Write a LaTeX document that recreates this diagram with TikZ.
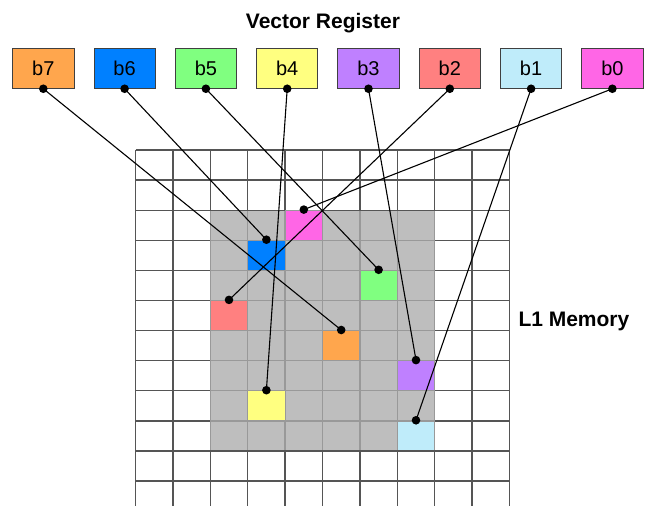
\documentclass[tikz,border=0pt]{standalone}
\usepackage{fontspec}
\setmainfont{Liberation Sans}
\definecolor{orangeC}{HTML}{FFA64D}
\definecolor{blueC}{HTML}{0080FF}
\definecolor{greenC}{HTML}{80FF80}
\definecolor{yellowC}{HTML}{FFFF80}
\definecolor{purpleC}{HTML}{BF80FF}
\definecolor{redC}{HTML}{FF8080}
\definecolor{lblueC}{HTML}{BFECFA}
\definecolor{magC}{HTML}{FF66E6}
\definecolor{grayC}{HTML}{BEBEBE}
\definecolor{gridC}{HTML}{555555}
\definecolor{gridL}{HTML}{999999}
\begin{document}
\begin{tikzpicture}[x=1pt,y=-1pt,
  reg/.style={draw=black!75, line width=0.9pt, minimum width=61.3pt, minimum height=40pt, inner sep=0pt,
    font=\fontsize{20}{24}\selectfont},
  cell/.style={draw=gridL, line width=1.2pt, minimum width=37.4pt, minimum height=30.1pt, inner sep=0pt},
  conn/.style={line width=1.1pt, black},
  dot/.style={fill=black},
  title/.style={font=\fontsize{21}{25}\selectfont\bfseries, inner sep=0pt}]
\useasboundingbox (0,0) rectangle (646,506);
% grid
\foreach \i in {0,...,10} {
  \draw[gridC, line width=1.3pt] ({135.5+37.4*\i},150) -- ({135.5+37.4*\i},506);
}
\foreach \j in {0,...,11} {
  \draw[gridC, line width=1.3pt] (135.5,{150+30.1*\j}) -- (509.5,{150+30.1*\j});
}
% gray region
\fill[grayC] (210.3,210.2) rectangle (434.7,451);
\foreach \i in {2,...,8} {
  \draw[gridL, line width=1.3pt] ({135.5+37.4*\i},210.2) -- ({135.5+37.4*\i},451);
}
\foreach \j in {3,...,9} {
  \draw[gridL, line width=1.3pt] (210.3,{150+30.1*\j}) -- (434.7,{150+30.1*\j});
}
\draw[gridC, line width=1.3pt] (135.5,210.2) -- (509.5,210.2);
\draw[gridC, line width=1.3pt] (135.5,451) -- (509.5,451);
% colored cells
\node[cell, fill=magC]    (c0) at (303.8,225.25) {};
\node[cell, fill=blueC]   (c6) at (266.4,255.35) {};
\node[cell, fill=greenC]  (c5) at (378.6,285.45) {};
\node[cell, fill=redC]    (c2) at (229.0,315.55) {};
\node[cell, fill=orangeC] (c7) at (341.2,345.65) {};
\node[cell, fill=purpleC] (c3) at (416.0,375.75) {};
\node[cell, fill=yellowC] (c4) at (266.4,405.85) {};
\node[cell, fill=lblueC]  (c1) at (416.0,435.95) {};
\draw[gridC, line width=1.3pt] (396.9,451) -- (434.7,451);
% title
\node[title, anchor=base] (t) at (323,28.3) {Vector Register};
\node[title, anchor=base west] (l1) at (518.3,326.7) {L1 Memory};
% register boxes
\node[reg, fill=orangeC] (b7) at (43.3,68.3) {b7};
\node[reg, fill=blueC]   (b6) at (124.6,68.3) {b6};
\node[reg, fill=greenC]  (b5) at (205.9,68.3) {b5};
\node[reg, fill=yellowC] (b4) at (287.2,68.3) {b4};
\node[reg, fill=purpleC] (b3) at (368.5,68.3) {b3};
\node[reg, fill=redC]    (b2) at (449.8,68.3) {b2};
\node[reg, fill=lblueC]  (b1) at (531.1,68.3) {b1};
\node[reg, fill=magC]    (b0) at (612.4,68.3) {b0};
% connectors
\foreach \k in {0,...,7} {
  \draw[conn] (b\k.south) -- (c\k.north);
  \fill[dot] (b\k.south) circle (4.3);
  \fill[dot] (c\k.north) circle (4.3);
}
\end{tikzpicture}
\end{document}
